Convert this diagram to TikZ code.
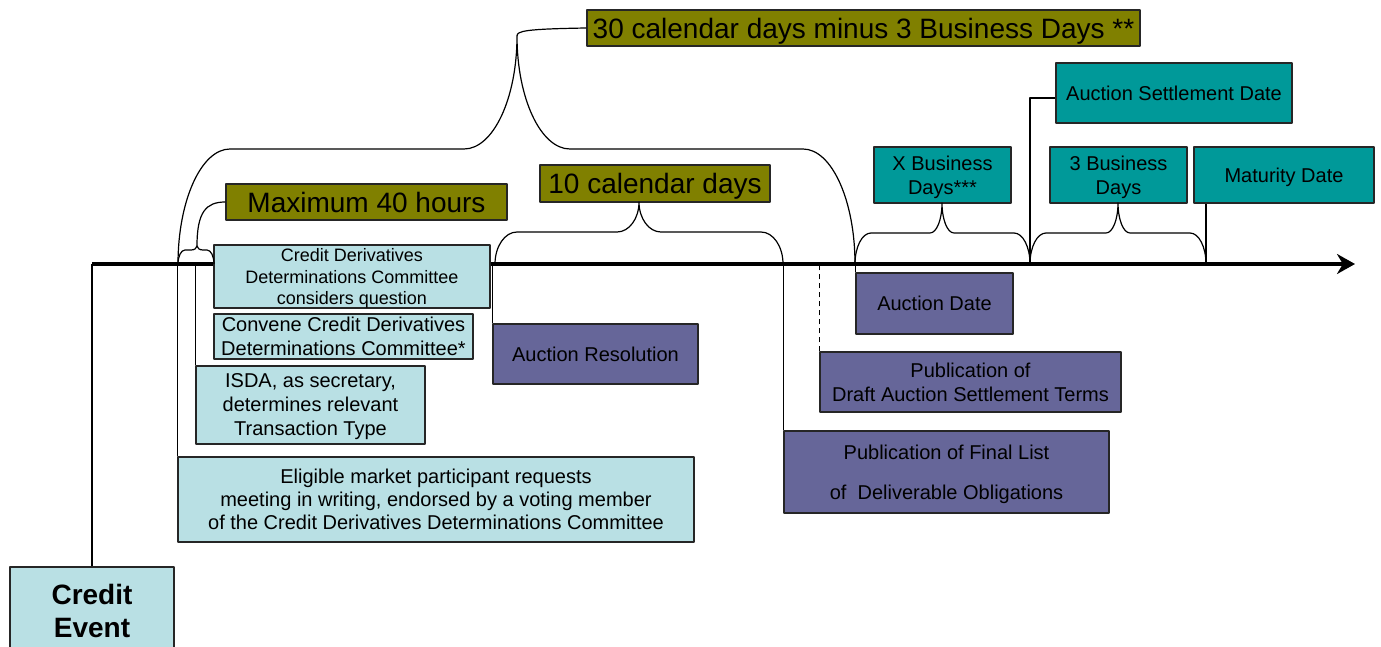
\documentclass[tikz,border=0pt]{standalone}
\usepackage{fontspec}
\setmainfont{Liberation Sans}
\usetikzlibrary{arrows.meta}
\definecolor{paleblue}{RGB}{185,224,228}
\definecolor{olivefill}{RGB}{128,128,0}
\definecolor{violetfill}{RGB}{102,102,153}
\definecolor{tealfill}{RGB}{0,153,153}
\newcommand{\bigTxt}{\fontsize{28}{32}\selectfont}
\newcommand{\midTxt}{\fontsize{20}{24}\selectfont}
\newcommand{\smallTxt}{\fontsize{18}{21.5}\selectfont}
% brace standing on the time line: left, right, apex x, flat y, tip y, end corner, apex corner
\newcommand{\myBrace}[7]{
  \draw (#1,264) .. controls (#1,{264-0.552*(264-#4)}) and ({#1+0.448*#6},#4) .. ({#1+#6},#4)
    -- ({#3-#7},#4) .. controls ({#3-0.448*#7},#4) and (#3,{#5+0.552*(#4-#5)}) .. (#3,#5)
    .. controls (#3,{#5+0.552*(#4-#5)}) and ({#3+0.448*#7},#4) .. ({#3+#7},#4)
    -- ({#2-#6},#4) .. controls ({#2-0.448*#6},#4) and (#2,{264-0.552*(264-#4)}) .. (#2,264);
}

\begin{document}
\begin{tikzpicture}[x=1pt, y=-1pt, line width=1.2pt, line join=round]
  \tikzset{box/.style = {draw=black!85, line width=1.3pt, inner sep=0pt, align=center, text depth=0pt, font=\midTxt}}
  \tikzset{paleBox/.style = {box, fill=paleblue}}
  \tikzset{oliveBox/.style = {box, fill=olivefill, font=\bigTxt}}
  \tikzset{violetBox/.style = {box, fill=violetfill}}
  \tikzset{tealBox/.style = {box, fill=tealfill}}
  \useasboundingbox (0,0) rectangle (1381,647);

  % time line
  \coordinate (evt) at (92,264);
  \coordinate (axEnd) at (1355,264);
  \draw[line width=3.8pt, -{Stealth[length=18pt, width=20pt]}] (evt) -- (axEnd);

  % olive periods
  \node[name = thirty, oliveBox, minimum width=553pt, minimum height=36pt] at (863.5,28) {30 calendar days minus 3 Business Days **};
  \node[name = max40, oliveBox, minimum width=281pt, minimum height=36pt] at (366.5,202) {Maximum 40 hours};
  \node[name = tenDays, oliveBox, minimum width=230pt, minimum height=37pt] at (655,183.5) {10 calendar days};

  % committee steps
  \node[name = creditEvent, paleBox, font=\fontsize{28}{33}\selectfont\bfseries, minimum width=164pt, minimum height=88pt] at (92,611) {Credit\\Event};
  \node[name = cddc, paleBox, font=\smallTxt, minimum width=276pt, minimum height=63pt] at (352,276.5) {Credit Derivatives\\Determinations Committee\\considers question};
  \node[name = convene, paleBox, minimum width=259pt, minimum height=45pt] at (343.5,336.5) {Convene Credit Derivatives\\Determinations Committee*};
  \node[name = isda, paleBox, minimum width=229pt, minimum height=78pt] at (310.5,405) {ISDA, as secretary,\\determines relevant\\Transaction Type};
  \node[name = eligible, paleBox, font=\fontsize{20}{23}\selectfont, minimum width=516pt, minimum height=85pt] at (436,499.5) {Eligible market participant requests\\meeting in writing, endorsed by a voting member\\of the Credit Derivatives Determinations Committee};

  % auction steps
  \node[name = auctionRes, violetBox, minimum width=205pt, minimum height=60pt] at (595.5,354) {Auction Resolution};
  \node[name = finalList, violetBox, font=\fontsize{20}{40}\selectfont, minimum width=325pt, minimum height=82pt] at (946.5,472) {Publication of Final List\\of\ \ Deliverable Obligations};
  \node[name = draft, violetBox, minimum width=301pt, minimum height=60pt] at (970.5,382) {Publication of\\Draft Auction Settlement Terms};
  \node[name = auctionDate, violetBox, minimum width=157pt, minimum height=61pt] at (934.5,303.5) {Auction Date};

  % settlement
  \node[name = xDays, tealBox, minimum width=137pt, minimum height=56pt] at (942.5,175) {X Business\\Days***};
  \node[name = threeDays, tealBox, minimum width=137pt, minimum height=56pt] at (1118.5,175) {3 Business\\Days};
  \node[name = maturity, tealBox, minimum width=180pt, minimum height=56pt] at (1284,175) {Maturity Date};
  \node[name = settle, tealBox, minimum width=236pt, minimum height=60pt] at (1174,93) {Auction Settlement Date};

  % drop lines
  \draw (creditEvent.north) -- (evt);
  \draw (eligible.north west) -- (eligible.north west |- evt);
  \draw (isda.north west) -- (isda.north west |- evt);
  \draw (auctionRes.north west) -- (auctionRes.north west |- evt);
  \draw (finalList.north west) -- (finalList.north west |- evt);
  \draw[dash pattern=on 5pt off 4pt] (draft.north west) -- (draft.north west |- evt);
  \draw (auctionDate.north west) -- (auctionDate.north west |- evt);
  \coordinate (matFoot) at (1206,264);
  \draw (matFoot) -- (matFoot |- maturity.south);
  \coordinate (settleKnee) at (1030,98);
  \draw (settleKnee |- evt) -- (settleKnee) -- (settleKnee -| settle.west);

  % braces
  \myBrace{178}{855}{517}{149}{36}{52}{53}
  \coordinate (tip30) at (517,36);
  \draw (tip30) .. controls (517,31) and (525,29) .. (thirty.west);
  \myBrace{178}{214}{197}{250}{246}{7}{6}
  \coordinate (tip40) at (197,246);
  \draw (tip40) .. controls (197,212) and (206,202) .. (max40.west);
  \myBrace{495}{783}{639}{232}{202}{22}{22}
  \myBrace{855}{1030}{942}{233}{203}{16}{12}
  \myBrace{1030}{1206}{1118}{233}{203}{16}{12}
\end{tikzpicture}
\end{document}
